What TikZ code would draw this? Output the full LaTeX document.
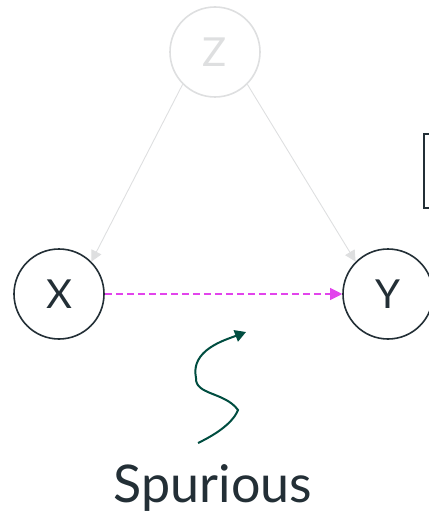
\documentclass[tikz,border=0pt]{standalone}
\usepackage{fontspec}
\setmainfont{Lato}
\usepackage{tikz}
\usetikzlibrary{arrows.meta,positioning}
\definecolor{ink}{RGB}{35,47,54}
\definecolor{faint}{RGB}{222,223,224}
\definecolor{spur}{RGB}{226,68,236}
\definecolor{pine}{RGB}{0,77,64}
\tikzset{every node/.style={font=\fontsize{40}{44}\selectfont}}
\newcommand{\varnode}[4][]{\node[circle,draw=ink,text=ink,line width=1.6pt,minimum size=90pt,inner sep=0pt,#1] at (#2) (#3) {#4}}

\begin{document}
\begin{tikzpicture}[x=1pt,y=-1pt]
        \useasboundingbox (0,0) rectangle (428,513);
        \varnode[draw=faint,text=faint]{215,52}{z}{Z};
        \varnode{59,294}{x}{X};
        \varnode{388,294}{y}{Y};
        \draw[faint,line width=0.9pt,-{Triangle[length=11pt,width=11pt]}]
        (z.225) -- (x.45);
        \draw[faint,line width=0.9pt,-{Triangle[length=11pt,width=11pt]}]
        (z.-45) -- (y.135);
        \draw[spur,line width=1.1pt,dash pattern=on 7pt off 4pt,-{Triangle[length=12pt,width=12pt]}]
        (x) -- (y);
        % box at the right edge
        \draw[ink,line width=1.6pt] (438,134) -- (424,134) -- (424,208) -- (438,208);
        \coordinate (w0) at (198,443);
        \coordinate (w1) at (246,332);
        \draw[pine,line width=2pt,-{Triangle[length=11pt,width=12pt]}]
        (w0) .. controls (225,430) and (235,418) .. (238,410)
        .. controls (225,392) and (195,395) .. (196,378)
        .. controls (190,350) and (225,340) .. (w1);
        \node[text=ink,font=\fontsize{52}{56}\selectfont] (spurious) at (213,488) {Spurious};
    \end{tikzpicture}
\end{document}
